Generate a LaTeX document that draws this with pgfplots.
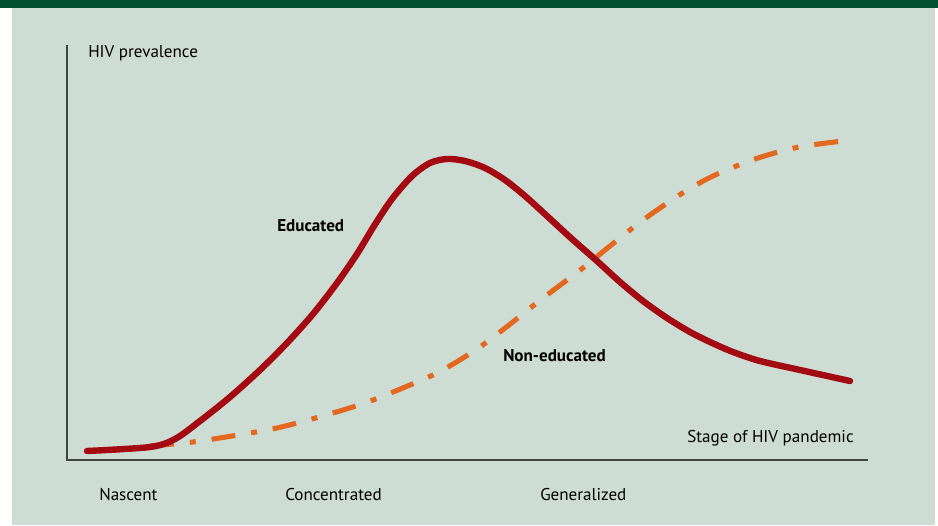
\documentclass[border=0pt]{standalone}
\usepackage{pgfplots}
\pgfplotsset{compat=1.18}
\usepackage{fontspec}
\setmainfont{PT Sans}
\definecolor{bgc}{HTML}{CDDDD3}
\definecolor{topbar}{HTML}{03502F}
\definecolor{edured}{HTML}{A30A12}
\definecolor{noned}{HTML}{E2691F}
\definecolor{axc}{HTML}{3D4742}
\begin{document}
\begin{tikzpicture}[x=0.75pt,y=0.75pt]
\fill[white] (0,0) rectangle (938,525);
\fill[bgc] (12,0) rectangle (935,517);
\fill[topbar] (0,517) rectangle (938,525);
\begin{axis}[
  at={(0,0)}, anchor=origin,
  scale only axis, width=703.5pt, height=393.75pt,
  xmin=0, xmax=938, ymin=0, ymax=525,
  hide axis, clip=false,
  font=\fontsize{12.8}{15}\selectfont,
]
\draw[axc, line width=1.5pt] (axis cs:67,480) -- (axis cs:67,65) -- (axis cs:868,65);
\addplot[noned, line width=3.8pt, smooth, line cap=butt,
  dash pattern=on 18pt off 12pt on 4.5pt off 12pt] coordinates {
(150,79) (193,83) (238,90) (277,97) (319,108) (362,121) (398,135) (439,153)
(477,176) (509,200) (543,227) (579,254) (610,279) (643,305) (681,331)
(713,349) (755,366) (799,378) (852,385)};
\addplot[edured, line width=4.8pt, smooth, line cap=round] coordinates {
(87,74) (150,78) (175,86) (200,104) (230,128) (260,155) (287,182) (313,211)
(337,242) (357,271) (374,299) (392,326) (412,349) (430,362) (447,366)
(465,364) (485,357) (505,345) (525,329) (547,309) (572,286) (597,264)
(620,243) (643,224) (667,207) (690,193) (710,183) (733,173) (760,164)
(800,155) (850,144)};
\node[anchor=base west, inner sep=0pt] at (axis cs:88,467) {HIV prevalence};
\node[anchor=base east, inner sep=0pt] at (axis cs:854,83) {Stage of HIV pandemic};
\node[anchor=base west, inner sep=0pt] at (axis cs:99,25) {Nascent};
\node[anchor=base west, inner sep=0pt] at (axis cs:285,25) {Concentrated};
\node[anchor=base west, inner sep=0pt] at (axis cs:540,25) {Generalized};
\node[anchor=base west, inner sep=0pt, font=\fontsize{12.8}{15}\selectfont\bfseries] at (axis cs:277,293) {Educated};
\node[anchor=base west, inner sep=0pt, font=\fontsize{12.8}{15}\selectfont\bfseries] at (axis cs:503,163) {Non-educated};
\end{axis}
\end{tikzpicture}
\end{document}
